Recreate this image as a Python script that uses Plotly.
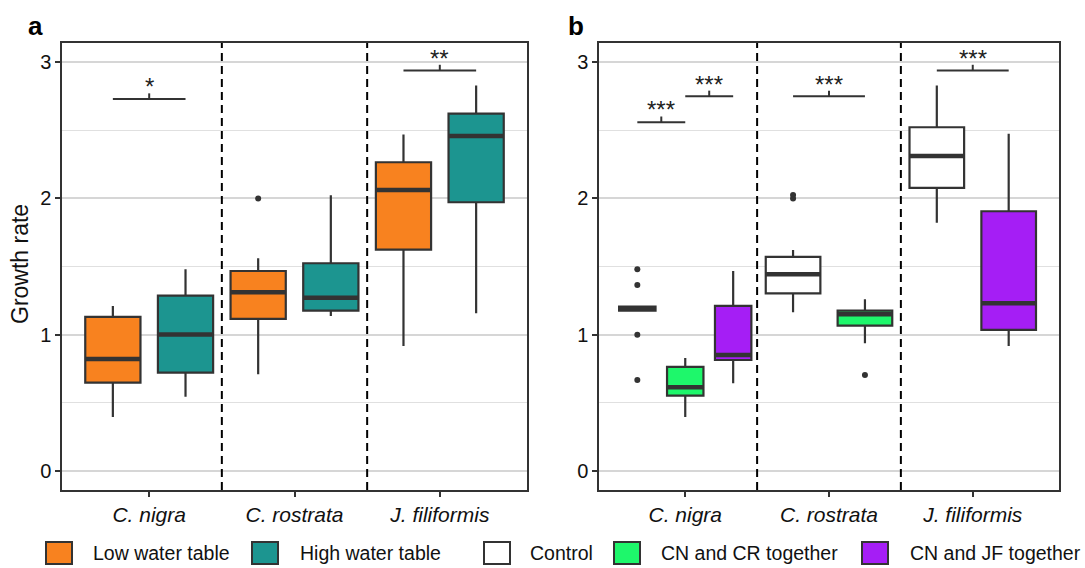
import plotly.graph_objects as go

# ---------------- data ----------------
species = ["C. nigra", "C. rostrata", "J. filiformis"]

# Panel a: water-table treatment (box statistics per species)
water_groups = ["Low water table", "High water table"]
low_q1 = [0.647, 1.115, 1.624]
low_median = [0.82, 1.31, 2.062]
low_q3 = [1.13, 1.467, 2.266]
low_lower = [0.395, 0.708, 0.916]
low_upper = [1.21, 1.56, 2.47]
low_outliers = [[], [2.0], []]

high_q1 = [0.72, 1.176, 1.972]
high_median = [1.0, 1.27, 2.459]
high_q3 = [1.286, 1.524, 2.623]
high_lower = [0.544, 1.137, 1.156]
high_upper = [1.48, 2.023, 2.829]
high_outliers = [[], [], []]

# Panel b: competition treatment (None = treatment not applied to species)
comp_groups = ["Control", "CN and CR together", "CN and JF together"]
ctrl_q1 = [1.175, 1.303, 2.077]
ctrl_median = [1.19, 1.443, 2.312]
ctrl_q3 = [1.205, 1.57, 2.523]
ctrl_lower = [1.175, 1.164, 1.822]
ctrl_upper = [1.205, 1.622, 2.829]
ctrl_outliers = [[1.48, 1.365, 0.998, 0.666], [2.0, 2.025], []]

cncr_q1 = [0.551, 1.066, None]
cncr_median = [0.613, 1.149, None]
cncr_q3 = [0.762, 1.176, None]
cncr_lower = [0.395, 0.936, None]
cncr_upper = [0.828, 1.259, None]
cncr_outliers = [[], [0.703], None]

cnjf_q1 = [0.813, None, 1.034]
cnjf_median = [0.85, None, 1.23]
cnjf_q3 = [1.21, None, 1.906]
cnjf_lower = [0.642, None, 0.916]
cnjf_upper = [1.467, None, 2.476]
cnjf_outliers = [[], None, []]

# Significance brackets: (species index, group A, group B, height, label)
sig_a = [(0, 0, 1, 2.73, "*"), (2, 0, 1, 2.94, "**")]
sig_b = [(0, 0, 1, 2.56, "***"), (0, 1, 2, 2.75, "***"),
         (1, 0, 1, 2.75, "***"), (2, 0, 2, 2.94, "***")]

# ---------------- styling ----------------
FONT = "Liberation Sans, Arial, sans-serif"
DARK = "#333333"
colors_a = ["#F8821F", "#1C9590"]
colors_b = ["#FFFFFF", "#1EF76B", "#A51EF5"]
Y_RANGE = [-0.142, 3.142]
X_RANGE = [0.4, 3.6]
BOX_FRAC = 0.76  # share of each dodge slot filled by a box

panel_a = [
    dict(q1=low_q1, med=low_median, q3=low_q3, lo=low_lower, hi=low_upper, out=low_outliers),
    dict(q1=high_q1, med=high_median, q3=high_q3, lo=high_lower, hi=high_upper, out=high_outliers),
]
panel_b = [
    dict(q1=ctrl_q1, med=ctrl_median, q3=ctrl_q3, lo=ctrl_lower, hi=ctrl_upper, out=ctrl_outliers),
    dict(q1=cncr_q1, med=cncr_median, q3=cncr_q3, lo=cncr_lower, hi=cncr_upper, out=cncr_outliers),
    dict(q1=cnjf_q1, med=cnjf_median, q3=cnjf_q3, lo=cnjf_lower, hi=cnjf_upper, out=cnjf_outliers),
]

fig = go.Figure()


def dodge_positions(groups):
    """Centre and width of every present box, dodged within each species."""
    pos = {}
    for s in range(len(species)):
        present = [g for g in range(len(groups)) if groups[g]["q1"][s] is not None]
        n = len(present)
        slot = 1.0 / n
        for k, g in enumerate(present):
            centre = (s + 1) + (k - (n - 1) / 2) * slot
            pos[(s, g)] = (centre, slot * BOX_FRAC)
    return pos


def draw_panel(groups, colors, names, xa, ya, sigs):
    pos = dodge_positions(groups)
    for (s, g), (cx, w) in pos.items():
        d = groups[g]
        fig.add_trace(go.Box(
            x=[cx], q1=[d["q1"][s]], median=[d["med"][s]], q3=[d["q3"][s]],
            lowerfence=[d["lo"][s]], upperfence=[d["hi"][s]],
            width=w, whiskerwidth=0, fillcolor=colors[g],
            line=dict(color=DARK, width=2.2), boxpoints=False,
            name=names[g], showlegend=False, hoverinfo="skip",
            xaxis=xa, yaxis=ya,
        ))
        # thicker median bar
        fig.add_trace(go.Scatter(
            x=[cx - w / 2, cx + w / 2], y=[d["med"][s]] * 2, mode="lines",
            line=dict(color=DARK, width=4.5), showlegend=False, hoverinfo="skip",
            xaxis=xa, yaxis=ya,
        ))
        if d["out"][s]:
            fig.add_trace(go.Scatter(
                x=[cx] * len(d["out"][s]), y=d["out"][s], mode="markers",
                marker=dict(color=DARK, size=6), showlegend=False,
                hoverinfo="skip", xaxis=xa, yaxis=ya,
            ))
    # significance brackets
    for s, g1, g2, h, lab in sigs:
        x1 = pos[(s, g1)][0]
        x2 = pos[(s, g2)][0]
        xm = (x1 + x2) / 2
        fig.add_trace(go.Scatter(
            x=[x1, x2, None, xm, xm], y=[h, h, None, h, h + 0.042],
            mode="lines", line=dict(color=DARK, width=2),
            showlegend=False, hoverinfo="skip", xaxis=xa, yaxis=ya,
        ))
        fig.add_annotation(
            x=xm, y=h + 0.042, xref=xa, yref=ya, text=lab, showarrow=False,
            yanchor="bottom", xanchor="center", yshift=-9,
            font=dict(family=FONT, size=24, color="#222222"),
        )
    # dashed separators between species
    for xv in (1.5, 2.5):
        fig.add_shape(type="line", x0=xv, x1=xv, y0=0, y1=1,
                      xref=xa, yref=f"{ya} domain",
                      line=dict(color="black", width=2, dash="8px,5px"))


draw_panel(panel_a, colors_a, water_groups, "x", "y", sig_a)
draw_panel(panel_b, colors_b, comp_groups, "x2", "y2", sig_b)

xaxis_style = dict(
    range=X_RANGE, tickvals=[1, 2, 3], ticktext=species,
    tickfont=dict(family=FONT, size=21, color="#111111", style="italic"),
    ticks="outside", ticklen=5, tickwidth=1.5, tickcolor=DARK,
    showgrid=False, zeroline=False, showline=True, linecolor=DARK,
    linewidth=1.5, mirror=True, automargin=False,
)
yaxis_style = dict(
    range=Y_RANGE, tickvals=[0, 1, 2, 3],
    tickfont=dict(family=FONT, size=20, color="#111111"),
    ticks="outside", ticklen=5, tickwidth=1.5, tickcolor=DARK,
    showgrid=True, gridcolor="#D6D6D6", gridwidth=1.8,
    minor=dict(tickvals=[0.5, 1.5, 2.5], showgrid=True,
               gridcolor="#E0E0E0", gridwidth=1.1, ticks=""),
    zeroline=False, showline=True, linecolor=DARK, linewidth=1.5,
    mirror=True, automargin=False,
)

W, H = 1085, 568
y_dom = [1 - 490 / H, 1 - 43 / H]
fig.update_layout(
    width=W, height=H,
    margin=dict(l=0, r=0, t=0, b=0),
    paper_bgcolor="white", plot_bgcolor="white",
    showlegend=False,
    xaxis=dict(domain=[62 / W, 527 / W], anchor="y", **xaxis_style),
    yaxis=dict(domain=y_dom, anchor="x", **yaxis_style),
    xaxis2=dict(domain=[599 / W, 1059 / W], anchor="y2", **xaxis_style),
    yaxis2=dict(domain=y_dom, anchor="x2", **yaxis_style),
)

# panel letters and y-axis title
fig.add_annotation(x=26 / W, y=1 - 9 / H, xref="paper", yref="paper", text="<b>a</b>",
                   showarrow=False, xanchor="left", yanchor="top",
                   font=dict(family=FONT, size=26, color="black"))
fig.add_annotation(x=566 / W, y=1 - 9 / H, xref="paper", yref="paper", text="<b>b</b>",
                   showarrow=False, xanchor="left", yanchor="top",
                   font=dict(family=FONT, size=26, color="black"))
fig.add_annotation(x=20 / W, y=1 - 264 / H, xref="paper", yref="paper", text="Growth rate",
                   showarrow=False, textangle=-90, xanchor="center", yanchor="middle",
                   font=dict(family=FONT, size=23, color="#111111"))

# bottom legend: key swatches with labels
legend_names = water_groups + comp_groups
legend_colors = colors_a + colors_b
swatch_left = [46, 252, 484, 614, 862]
label_left = [91, 298, 528, 659, 908]
ly = 553
for name, col, sx, tx in zip(legend_names, legend_colors, swatch_left, label_left):
    fig.add_shape(type="rect", xref="paper", yref="paper",
                  x0=sx / W, x1=(sx + 26) / W, y0=1 - (ly + 11) / H, y1=1 - (ly - 11) / H,
                  fillcolor=col, line=dict(color=DARK, width=2))
    fig.add_annotation(x=tx / W, y=1 - ly / H, xref="paper", yref="paper", text=name,
                       showarrow=False, xanchor="left", yanchor="middle",
                       font=dict(family=FONT, size=19.5, color="#111111"))

fig.write_html("out.html")
